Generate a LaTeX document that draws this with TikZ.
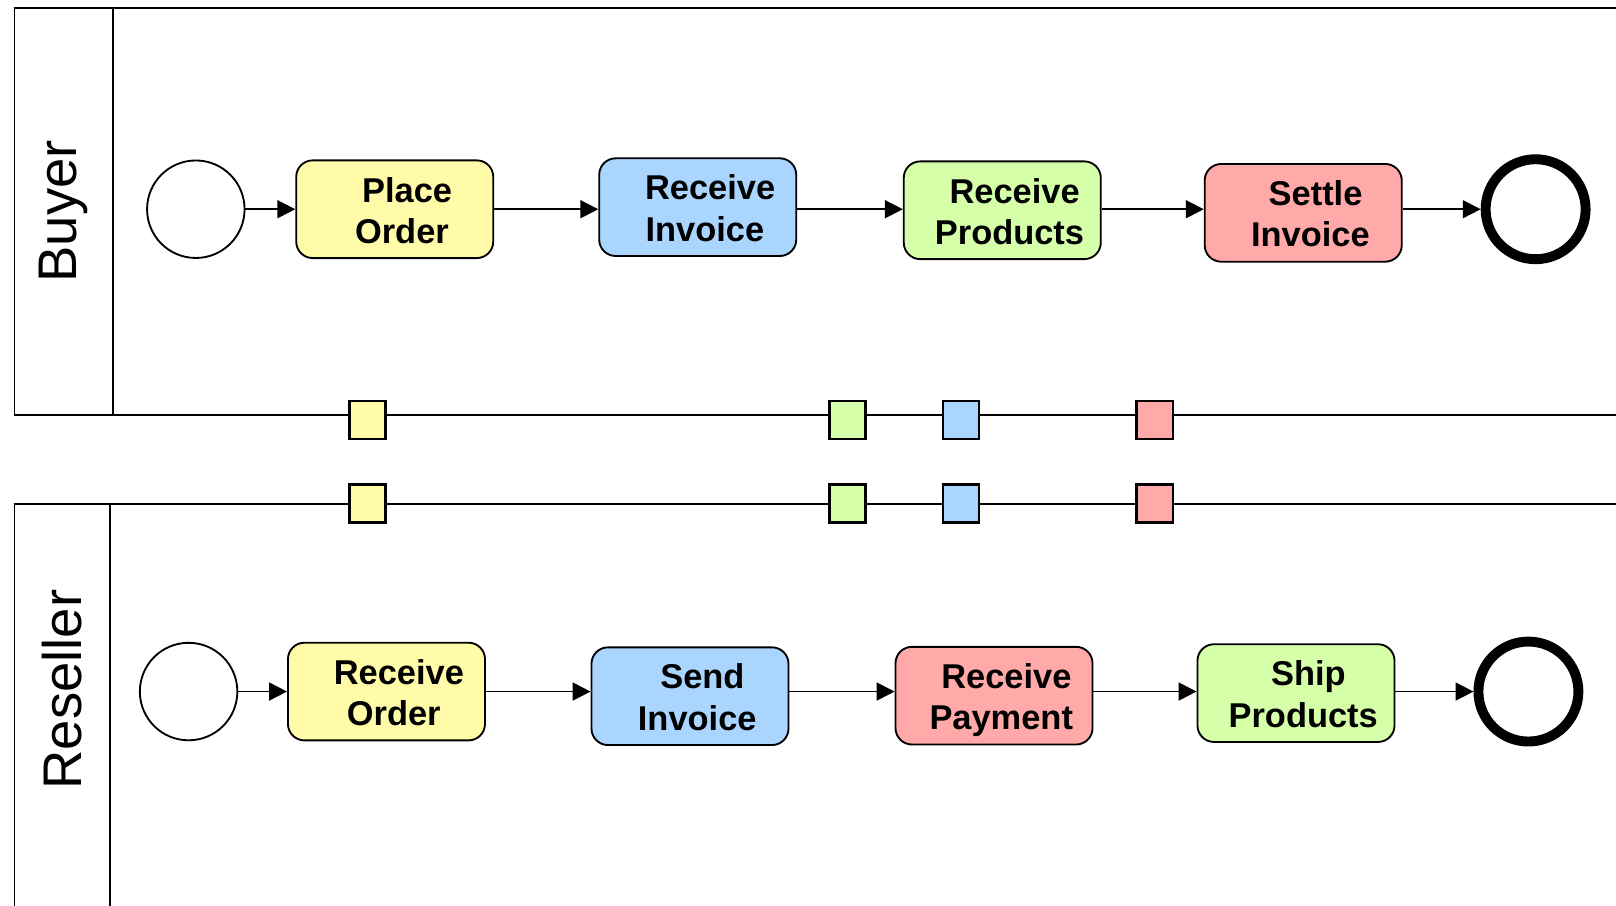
\documentclass[tikz,border=0pt]{standalone}
\usepackage{fontspec}
\setmainfont{Liberation Sans}
\usetikzlibrary{arrows.meta}
\definecolor{cyel}{HTML}{FFFBA8}
\definecolor{cblue}{HTML}{A9D5FF}
\definecolor{cgreen}{HTML}{D5FFA8}
\definecolor{cred}{HTML}{FFA9A8}
\newcommand{\tasklines}[2]{\raisebox{-2.5pt}[\height][\depth]{\begin{tabular}{@{}c@{}}\hspace*{12pt}#1\\\hspace*{7pt}#2\end{tabular}}}
\begin{document}
\begin{tikzpicture}[x=0.5pt,y=-0.5pt,
  pool/.style={line width=0.9pt},
  task/.style={draw, line width=0.9pt, rounded corners=8pt, minimum width=95.6pt, minimum height=47.4pt, inner sep=0pt, font=\fontsize{16.7}{20}\selectfont\bfseries},
  startev/.style={circle, draw, line width=0.9pt, minimum size=47.3pt, inner sep=0pt},
  endev/.style={circle, draw, line width=4.8pt, minimum size=48.5pt, inner sep=0pt},
  flow/.style={-{Triangle[length=8.7pt,width=8.7pt]}, line width=0.9pt},
  msg/.style={draw, line width=1.3pt, minimum width=17.5pt, minimum height=18.5pt, inner sep=0pt},
  lanelabel/.style={rotate=90, font=\fontsize{26.4}{30}\selectfont, inner sep=0pt}
]
\useasboundingbox (0,0) rectangle (1568,879);
\clip (0,0) rectangle (1568,879);
% pools
\draw[pool] (1600,8) -- (14,8) -- (14,403) -- (1600,403);
\draw[pool] (110,8) -- (110,403);
\draw[pool] (1600,489) -- (14,489) -- (14,900);
\draw[pool] (107,489) -- (107,900);
\node[lanelabel] (buyer) at (62,205) {Buyer};
\node[lanelabel] (reseller) at (60,669) {Reseller};
\coordinate (brow) at (0,203);
\coordinate (rrow) at (0,671);
% buyer row
\node[startev] (bs) at (190,203) {};
\node[task, fill=cyel] (po) at (383,203) {\tasklines{Place}{Order}};
\node[task, fill=cblue] (ri) at (677,201) {\tasklines{Receive}{Invoice}};
\node[task, fill=cgreen] (rp) at (972.5,204) {\tasklines{Receive}{Products}};
\node[task, fill=cred] (si) at (1264.5,206.5) {\tasklines{Settle}{Invoice}};
\node[endev] (be) at (1490,203) {};
\draw[flow] (bs) -- (po);
\draw[flow] (po.east |- brow) -- (ri.west |- brow);
\draw[flow] (ri.east |- brow) -- (rp.west |- brow);
\draw[flow] (rp.east |- brow) -- (si.west |- brow);
\draw[flow] (si.east |- brow) -- (be.west |- brow);
% reseller row
\node[startev] (rs) at (183,671) {};
\node[task, fill=cyel] (ro) at (375,671) {\tasklines{Receive}{Order}};
\node[task, fill=cblue] (sn) at (669.5,675.5) {\tasklines{Send}{Invoice}};
\node[task, fill=cred] (rpay) at (964.5,675) {\tasklines{Receive}{Payment}};
\node[task, fill=cgreen] (sp) at (1257.5,672.5) {\tasklines{Ship}{Products}};
\node[endev] (re) at (1483,671) {};
\draw[flow] (rs) -- (ro);
\draw[flow] (ro.east |- rrow) -- (sn.west |- rrow);
\draw[flow] (sn.east |- rrow) -- (rpay.west |- rrow);
\draw[flow] (rpay.east |- rrow) -- (sp.west |- rrow);
\draw[flow] (sp.east |- rrow) -- (re.west |- rrow);
% message markers
\node[msg, fill=cyel] (m1t) at (356.5,407.5) {};
\node[msg, fill=cgreen] (m2t) at (822.5,407.5) {};
\node[msg, fill=cblue] (m3t) at (932.5,407.5) {};
\node[msg, fill=cred] (m4t) at (1120.5,407.5) {};
\node[msg, fill=cyel] (m1b) at (356.5,488.5) {};
\node[msg, fill=cgreen] (m2b) at (822.5,488.5) {};
\node[msg, fill=cblue] (m3b) at (932.5,488.5) {};
\node[msg, fill=cred] (m4b) at (1120.5,488.5) {};
\end{tikzpicture}
\end{document}
